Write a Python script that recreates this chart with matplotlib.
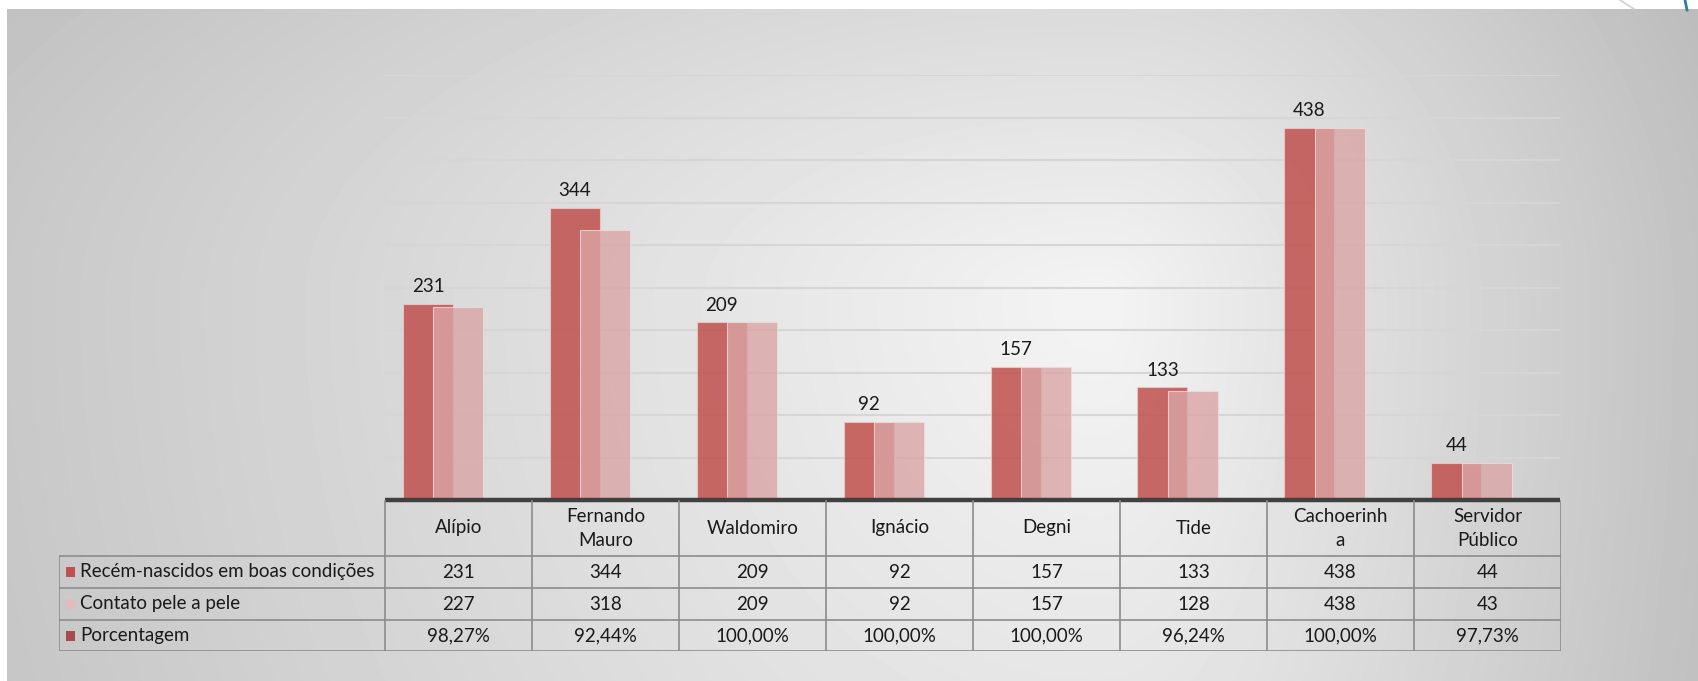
import numpy as np
import matplotlib.pyplot as plt
from matplotlib.patches import Rectangle

plt.rcParams['font.family'] = ['Lato', 'DejaVu Sans']

# dados
categorias = ["Alípio", "Fernando\nMauro", "Waldomiro", "Ignácio", "Degni", "Tide",
              "Cachoerinh\na", "Servidor\nPúblico"]
series_nomes = ["Recém-nascidos em boas condições", "Contato pele a pele", "Porcentagem"]
recem_nascidos = [231, 344, 209, 92, 157, 133, 438, 44]
contato_pele = [227, 318, 209, 92, 157, 128, 438, 43]
porcentagem = [98.27, 92.44, 100.00, 100.00, 100.00, 96.24, 100.00, 97.73]

cor_escura = "#C0504D"
cor_clara = "#DAA5A5"
cor_pct = "#A84B4B"

W, H = 1699, 681
fig = plt.figure(figsize=(W / 100, H / 100), dpi=100)

# fundo em gradiente (estilo Excel)
bg = fig.add_axes([0, 0, 1, 1])
xx, yy = np.meshgrid(np.arange(W), np.arange(H))
fx = np.interp(xx, [0, 1100, W], [44, 0, 50])
fy = np.interp(yy, [0, 300, H], [26, 0, 14])
img = (244 - np.sqrt(fx**2 + fy**2)) / 255.0
img[:9, :] = 1.0
img[:, :7] = 1.0
bg.imshow(img, cmap="gray", vmin=0, vmax=1, extent=(0, W, H, 0), aspect="auto")
bg.plot([1620, 1634], [0, 9], color="#D0D0D0", lw=1.2)
bg.plot([1685, 1687], [0, 10], color="#2E7D9A", lw=2)
bg.set_xlim(0, W)
bg.set_ylim(H, 0)
bg.axis("off")

# grafico de barras
ax = fig.add_axes([385 / W, 1 - 500 / H, 1175 / W, 425 / H])
ax.patch.set_visible(False)
x = np.arange(len(categorias))
passo = 0.207
largura = 0.34

ax.bar(x - passo, recem_nascidos, width=largura, color=cor_escura, alpha=0.85,
       edgecolor="#EBC9C8", linewidth=0.8, zorder=3)
ax.bar(x, contato_pele, width=largura, color=cor_clara, alpha=0.8,
       edgecolor="#F0DCDC", linewidth=0.8, zorder=4)
ax.bar(x + passo, [p / 100 for p in porcentagem], width=largura, color=cor_pct,
       alpha=0.85, linewidth=0, zorder=2)

for i, v in enumerate(recem_nascidos):
    ax.annotate(f"{v}", (i - passo, v), xytext=(0, 6), textcoords="offset points",
                ha="center", va="bottom", fontsize=13.5, color="#1A1A1A")

ax.set_xlim(-0.5, 7.5)
ax.set_ylim(0, 500)
ax.set_yticks(np.arange(0, 501, 50))
ax.grid(axis="y", color="#D6D6D6", linewidth=1.5, zorder=0)
ax.axhline(0, color="#404040", lw=3.2, zorder=10, clip_on=False,
           solid_capstyle="butt")
ax.tick_params(left=False, bottom=False, labelleft=False, labelbottom=False)
for s in ax.spines.values():
    s.set_visible(False)

# tabela de dados
L = (385 - 59) / (1175 / 8)
tab = fig.add_axes([59 / W, 1 - 651 / H, (1561 - 59) / W, (651 - 500) / H])
tab.patch.set_visible(False)
tab.set_xlim(-0.5 - L, 7.5)
tab.set_ylim(151, 0)
tab.axis("off")

linhas = [0, 56, 88, 120, 151]
cor_linha = "#8C8C8C"
for k in range(len(categorias) + 1):
    tab.plot([k - 0.5, k - 0.5], [1, 151], color=cor_linha, lw=1.2)
tab.plot([-0.5 - L, -0.5 - L], [56, 151], color=cor_linha, lw=1.2)
for yl in linhas[1:]:
    tab.plot([-0.5 - L, 7.5], [yl, yl], color=cor_linha, lw=1.2)

fs = 13.5
for i, c in enumerate(categorias):
    tab.text(i, 28, c, ha="center", va="center", fontsize=fs, color="#1A1A1A",
             linespacing=1.5)

valores = [
    [str(v) for v in recem_nascidos],
    [str(v) for v in contato_pele],
    [f"{p:.2f}%".replace(".", ",") for p in porcentagem],
]
cores_serie = [cor_escura, "#E2BBBA", cor_pct]
px = 1175 / 8
for r, (nome, vals, cor) in enumerate(zip(series_nomes, valores, cores_serie)):
    yc = (linhas[r + 1] + linhas[r + 2]) / 2
    tab.add_patch(Rectangle((-0.5 - L + 7 / px, yc - 5), 9 / px, 10,
                            facecolor=cor, edgecolor="none"))
    tab.text(-0.5 - L + 21 / px, yc, nome, ha="left", va="center", fontsize=fs,
             color="#1A1A1A")
    for i, v in enumerate(vals):
        tab.text(i, yc, v, ha="center", va="center", fontsize=fs, color="#1A1A1A")

fig.savefig("out.png", dpi=100)
